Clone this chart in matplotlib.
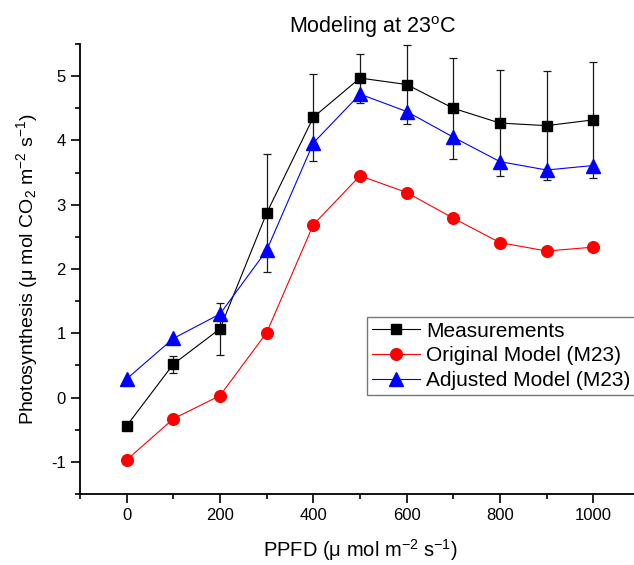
import matplotlib
matplotlib.use("Agg")
import matplotlib.pyplot as plt
from matplotlib.ticker import MultipleLocator

plt.rcParams['font.family'] = ['Liberation Sans', 'DejaVu Sans']
plt.rcParams['mathtext.fontset'] = 'custom'
plt.rcParams['mathtext.rm'] = 'Liberation Sans'
plt.rcParams['mathtext.it'] = 'Liberation Sans:italic'
plt.rcParams['mathtext.default'] = 'regular'
plt.rcParams['axes.unicode_minus'] = False

ppfd = [0, 100, 200, 300, 400, 500, 600, 700, 800, 900, 1000]
measured = [-0.44, 0.52, 1.07, 2.87, 4.36, 4.97, 4.87, 4.50, 4.27, 4.23, 4.32]
measured_err = [0.0, 0.13, 0.40, 0.92, 0.68, 0.38, 0.62, 0.79, 0.83, 0.85, 0.90]
original = [-0.97, -0.33, 0.03, 1.01, 2.69, 3.45, 3.19, 2.79, 2.41, 2.28, 2.34]
adjusted = [0.29, 0.92, 1.30, 2.29, 3.96, 4.72, 4.45, 4.05, 3.67, 3.54, 3.61]

fig = plt.figure(figsize=(6.34, 5.65), dpi=100)
W, H = 634, 565
ax = fig.add_axes([80 / W, 71 / H, 560 / W, 450 / H])

ax.errorbar(ppfd, measured, yerr=measured_err, fmt='none', ecolor='#1a1a1a',
            elinewidth=0.9, capsize=3.2, capthick=0.9, zorder=2)
ax.plot(ppfd, measured, color='black', lw=0.8, marker='s', ms=6.8,
        mfc='black', mec='black', label='Measurements', zorder=3)
ax.plot(ppfd, original, color='red', lw=0.8, marker='o', ms=8.4,
        mfc='red', mec='red', label='Original Model (M23)', zorder=3)
ax.plot(ppfd, adjusted, color='blue', lw=0.8, marker='^', ms=9.4,
        mfc='blue', mec='blue', label='Adjusted Model (M23)', zorder=3)

ax.set_xlim(-100, 1100)
ax.set_ylim(-1.5, 5.5)
ax.xaxis.set_major_locator(MultipleLocator(200))
ax.xaxis.set_minor_locator(MultipleLocator(100))
ax.yaxis.set_major_locator(MultipleLocator(1))
ax.yaxis.set_minor_locator(MultipleLocator(0.5))

for s in ['top', 'right']:
    ax.spines[s].set_visible(False)
for s in ['left', 'bottom']:
    ax.spines[s].set_linewidth(1.3)

ax.tick_params(which='major', direction='out', length=6.3, width=1.2,
               labelsize=12, pad=4)
ax.tick_params(which='minor', direction='out', length=3.6, width=1.2)

ax.set_xlabel('PPFD (μ mol m$^{-2}$ s$^{-1}$)', fontsize=14.5, labelpad=10)
ax.set_ylabel('Photosynthesis (μ mol CO$_2$ m$^{-2}$ s$^{-1}$)', fontsize=14, labelpad=8)
fig.text(372 / W, 1 - 33 / H, 'Modeling at 23$^{o}$C', fontsize=15.5,
         ha='center', va='baseline')

leg = ax.legend(loc='upper left', bbox_to_anchor=((367 - 80) / 560, (494 - 317) / 450),
                borderaxespad=0, fontsize=15, frameon=True, fancybox=False,
                edgecolor='#555555', handlelength=2.3, handletextpad=0.33,
                labelspacing=0.28, borderpad=0.22)
leg.get_frame().set_linewidth(1.0)

fig.savefig('out.png', dpi=100)
